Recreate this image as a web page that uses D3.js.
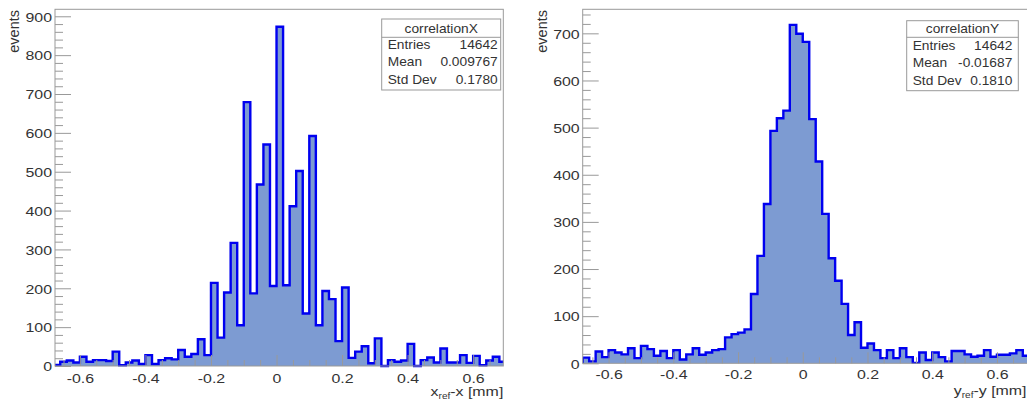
<!DOCTYPE html>
<html>
<head>
<meta charset="utf-8">
<script src="https://cdn.jsdelivr.net/npm/d3@7"></script>
<style>
  body { margin: 0; background: #fff; }
  svg { display: block; font-family: "Liberation Sans", Arial, sans-serif; }
</style>
</head>
<body>
<svg id="chart" width="1027" height="402"></svg>
<script>
// histogram binning (same for both plots)
const binLow = -0.68;
const binWidth = 0.02;

// bin contents, from the -0.68 bin upwards
const countsX = [3, 11, 14, 9, 24, 11, 15, 15, 13, 37, 2, 9, 14, 5, 28, 5, 15, 20, 17, 41,
  24, 31, 69, 28, 214, 73, 189, 317, 105, 679, 187, 467, 570, 206, 873, 208, 411, 502, 135, 592,
  105, 193, 172, 64, 202, 21, 37, 51, 7, 71, 0, 15, 11, 14, 57, 0, 15, 22, 9, 45,
  9, 9, 28, 8, 26, 2, 14, 24, 11];
const countsY = [12, 4, 25, 13, 28, 23, 19, 32, 11, 37, 30, 16, 26, 11, 28, 8, 19, 32, 18, 23,
  28, 30, 55, 62, 65, 72, 147, 228, 338, 493, 520, 536, 718, 699, 682, 518, 428, 317, 223, 175,
  126, 60, 87, 33, 42, 28, 11, 28, 11, 32, 13, 1, 23, 7, 23, 13, 4, 26, 26, 19,
  14, 16, 28, 14, 18, 18, 21, 28, 16];

const xTicks = [-0.6, -0.4, -0.2, 0, 0.2, 0.4, 0.6];
const xTickLabels = ["-0.6", "-0.4", "-0.2", "0", "0.2", "0.4", "0.6"];
const yTicksX = [0, 100, 200, 300, 400, 500, 600, 700, 800, 900];
const yTicksY = [0, 100, 200, 300, 400, 500, 600, 700];

const statsX = [["Entries", "14642"], ["Mean", "0.009767"], ["Std Dev", "0.1780"]];
const statsY = [["Entries", "14642"], ["Mean", "-0.01687"], ["Std Dev", "0.1810"]];

const svg = d3.select("#chart");
const stretch = "scale(1.18,1)";
const statStretch = "scale(1.1,1)";
const lineCol = "#0000f0";
const fillCol = "#7d9bd2";
const axisCol = "#999";
const textCol = "#333";
const labelSize = 13.5;
const statSize = 12.5;

function drawHist(opt) {
  const w = opt.x1 - opt.x0;
  const g = svg.append("g").attr("transform", `translate(${opt.x0},0)`);

  const x = d3.scaleLinear().domain(opt.xDomain).range([0, w]);
  const y = d3.scaleLinear().domain([0, opt.yMax]).range([opt.bottom, opt.top]);

  const bins = opt.counts.map((c, i) => ({ lo: binLow + i * binWidth, hi: binLow + (i + 1) * binWidth, c: c }));

  const clipId = "clip" + opt.id;
  g.append("clipPath").attr("id", clipId)
    .append("rect").attr("x", 0).attr("y", opt.top).attr("width", w).attr("height", opt.bottom - opt.top + 2);

  // step outline points
  const pts = [[bins[0].lo, 0]];
  bins.forEach(b => { pts.push([b.lo, b.c]); pts.push([b.hi, b.c]); });
  pts.push([bins[bins.length - 1].hi, 0]);

  const area = d3.area().x(d => x(d[0])).y0(y(0)).y1(d => y(d[1]));
  const line = d3.line().x(d => x(d[0])).y(d => y(d[1]));

  const hg = g.append("g").attr("clip-path", `url(#${clipId})`);
  hg.append("path").attr("d", area(pts)).attr("fill", fillCol);
  hg.append("path").attr("d", line(pts)).attr("fill", "none")
    .attr("stroke", lineCol).attr("stroke-width", 2.4).attr("stroke-linejoin", "miter");

  // minor ticks
  const xMinor = d3.range(-0.65, 0.7, 0.05).filter(v => !xTicks.some(t => Math.abs(t - v) < 1e-6) && v >= opt.xDomain[0] && v <= opt.xDomain[1]);
  const yMinor = d3.range(0, opt.yMax, 20).filter(v => v % 100 !== 0);

  const ax = g.append("g").attr("transform", `translate(0,${opt.bottom})`)
    .call(d3.axisBottom(x).tickValues(xMinor).tickSize(-6).tickSizeOuter(0).tickFormat(""));
  const axM = g.append("g").attr("transform", `translate(0,${opt.bottom})`)
    .call(d3.axisBottom(x).tickValues(xTicks).tickSize(-11).tickSizeOuter(0).tickFormat((d, i) => xTickLabels[i]));
  const ay = g.append("g")
    .call(d3.axisLeft(y).tickValues(yMinor).tickSize(-8).tickSizeOuter(0).tickFormat(""));
  const ayM = g.append("g")
    .call(d3.axisLeft(y).tickValues(opt.yTicks).tickSize(-16).tickSizeOuter(0));

  [ax, axM, ay, ayM].forEach(a => {
    a.attr("color", axisCol);
    a.select(".domain").remove();
  });

  axM.selectAll("text")
    .attr("y", 0).attr("dy", 0)
    .attr("font-size", labelSize).attr("fill", textCol)
    .attr("transform", `translate(0,${opt.xLabelY - opt.bottom}) ${stretch}`);
  ayM.selectAll("text")
    .attr("x", 0).attr("dy", 0)
    .attr("font-size", labelSize).attr("fill", textCol)
    .attr("text-anchor", "end")
    .attr("transform", `translate(-3,4.8) ${stretch}`);

  // frame
  g.append("rect").attr("x", 0).attr("y", opt.top).attr("width", w).attr("height", opt.bottom - opt.top)
    .attr("fill", "none").attr("stroke", axisCol).attr("stroke-width", 1);

  // y title
  svg.append("text")
    .attr("transform", `translate(${opt.yTitleX},10) rotate(-90)`)
    .attr("text-anchor", "end").attr("font-size", 14.5).attr("fill", textCol)
    .text("events");

  // x title with subscript
  const xt = svg.append("text")
    .attr("transform", `translate(${opt.xTitleRight},${opt.xTitleY}) ${stretch}`)
    .attr("text-anchor", "end").attr("font-size", labelSize).attr("fill", textCol);
  xt.append("tspan").text(opt.xTitle[0]);
  xt.append("tspan").attr("dy", 3).attr("font-size", 8.5).text("ref");
  xt.append("tspan").attr("dy", -3).text(opt.xTitle[1]);

  // stats box
  const b = opt.box;
  const sb = svg.append("g");
  sb.append("rect").attr("x", b.x0).attr("y", b.y0).attr("width", b.x1 - b.x0).attr("height", b.y1 - b.y0)
    .attr("fill", "#fff").attr("stroke", axisCol).attr("stroke-width", 1);
  sb.append("line").attr("x1", b.x0).attr("x2", b.x1).attr("y1", b.sep).attr("y2", b.sep)
    .attr("stroke", axisCol).attr("stroke-width", 1);
  sb.append("text")
    .attr("transform", `translate(${(b.x0 + b.x1) / 2},${b.rows[0]}) ${statStretch}`)
    .attr("text-anchor", "middle").attr("font-size", statSize).attr("fill", textCol)
    .text(opt.name);
  opt.stats.forEach((s, i) => {
    sb.append("text")
      .attr("transform", `translate(${b.x0 + 6},${b.rows[i + 1]}) ${statStretch}`)
      .attr("font-size", statSize).attr("fill", textCol).text(s[0]);
    sb.append("text")
      .attr("transform", `translate(${b.x1 - b.padR},${b.rows[i + 1]}) ${statStretch}`)
      .attr("text-anchor", "end").attr("font-size", statSize).attr("fill", textCol).text(s[1]);
  });
}

drawHist({
  id: "X", name: "correlationX", counts: countsX, stats: statsX,
  x0: 55, x1: 503.3, xDomain: [-0.676, 0.692],
  top: 9.3, bottom: 366, yMax: 918, yTicks: yTicksX,
  xLabelY: 382.5, xTitleY: 396, xTitleRight: 503.3, yTitleX: 19, xTitle: ["x", "-x [mm]"],
  box: { x0: 381.7, x1: 500.7, y0: 19, y1: 90, sep: 37.3, padR: 3, rows: [32.7, 48.7, 66.3, 84] }
});

drawHist({
  id: "Y", name: "correlationY", counts: countsY, stats: statsY,
  x0: 582.7, x1: 1029.3, xDomain: [-0.68, 0.70],
  top: 9.3, bottom: 363.3, yMax: 751, yTicks: yTicksY,
  xLabelY: 379, xTitleY: 395, xTitleRight: 1026.5, yTitleX: 547, xTitle: ["y", "-y [mm]"],
  box: { x0: 906.7, x1: 1018.3, y0: 20.7, y1: 90.7, sep: 37.3, padR: 6, rows: [33, 50, 67.3, 85] }
});
</script>
</body>
</html>
